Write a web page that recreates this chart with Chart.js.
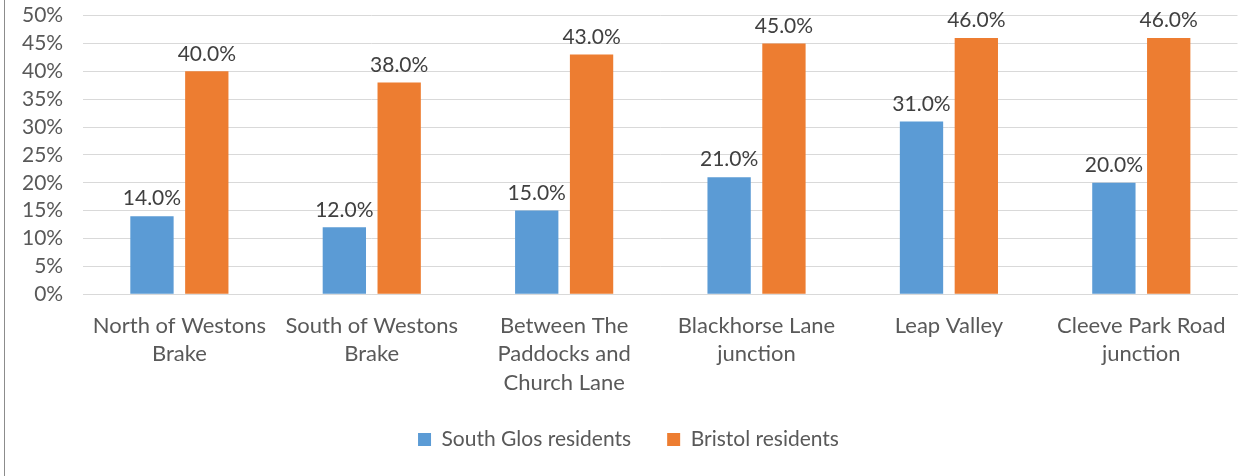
<!DOCTYPE html>
<html>
<head>
<meta charset="utf-8">
<script src="https://cdn.jsdelivr.net/npm/chart.js@4/dist/chart.umd.min.js"></script>
<style>
  html, body { margin: 0; padding: 0; background: #fff; }
  #wrap { position: relative; width: 1243px; height: 476px; }
  #edge { position: absolute; left: 4px; top: 0; width: 1px; height: 476px; background: #8c8c8c; }
</style>
</head>
<body>
<div id="wrap">
  <div id="edge"></div>
  <canvas id="surveyChart"></canvas>
</div>
<script>
// categories (multi-line labels)
var locations = [
    ['North of Westons', 'Brake'],
    ['South of Westons', 'Brake'],
    ['Between The', 'Paddocks and', 'Church Lane'],
    ['Blackhorse Lane', 'junction'],
    ['Leap Valley'],
    ['Cleeve Park Road', 'junction']
];
var southGlos = [14, 12, 15, 21, 31, 20];
var bristol = [40, 38, 43, 45, 46, 46];

var FONT = 'Lato, "Open Sans", sans-serif';

// draw the value above every bar
var valueLabels = {
    id: 'valueLabels',
    afterDatasetsDraw: function (chart) {
        var ctx = chart.ctx;
        ctx.save();
        ctx.font = '21px ' + FONT;
        ctx.fillStyle = '#404040';
        ctx.textAlign = 'center';
        ctx.textBaseline = 'bottom';
        chart.data.datasets.forEach(function (ds, i) {
            chart.getDatasetMeta(i).data.forEach(function (bar, j) {
                ctx.fillText(ds.data[j].toFixed(1) + '%', bar.x, bar.y - 7);
            });
        });
        ctx.restore();
    }
};

var ctx = document.getElementById('surveyChart').getContext('2d');
new Chart(ctx, {
    type: 'bar',
    data: {
        labels: locations,
        datasets: [{
            label: 'South Glos residents',
            data: southGlos,
            backgroundColor: '#5b9bd5',
            categoryPercentage: 0.57,
            barPercentage: 0.79
        }, {
            label: 'Bristol residents',
            data: bristol,
            backgroundColor: '#ed7d31',
            categoryPercentage: 0.57,
            barPercentage: 0.79
        }]
    },
    options: {
        responsive: true,
        maintainAspectRatio: false,
        animation: false,
        layout: { padding: { left: 19, right: 5, top: 7, bottom: 16 } },
        plugins: {
            legend: {
                position: 'bottom',
                labels: {
                    boxWidth: 13,
                    boxHeight: 13,
                    padding: 15,
                    color: '#595959',
                    font: { family: FONT, size: 21 },
                    // a little extra room between the two legend entries
                    generateLabels: function (chart) {
                        var items = Chart.defaults.plugins.legend.labels.generateLabels(chart);
                        items[0].text += '\u2002\u2002';
                        return items;
                    }
                }
            },
            tooltip: { enabled: false }
        },
        scales: {
            x: {
                grid: { display: false, drawTicks: false },
                border: { color: '#d9d9d9' },
                ticks: {
                    color: '#595959',
                    padding: 17,
                    maxRotation: 0,
                    autoSkip: false,
                    font: { family: FONT, size: 22, lineHeight: 1.3 }
                }
            },
            y: {
                min: 0,
                max: 50,
                grid: { color: '#d9d9d9', tickLength: 17, tickColor: 'transparent' },
                border: { display: false },
                ticks: {
                    stepSize: 5,
                    autoSkip: false,
                    padding: 3,
                    color: '#595959',
                    font: { family: FONT, size: 21 },
                    callback: function (v) { return v + '%'; }
                }
            }
        }
    },
    plugins: [valueLabels]
});
</script>
</body>
</html>
